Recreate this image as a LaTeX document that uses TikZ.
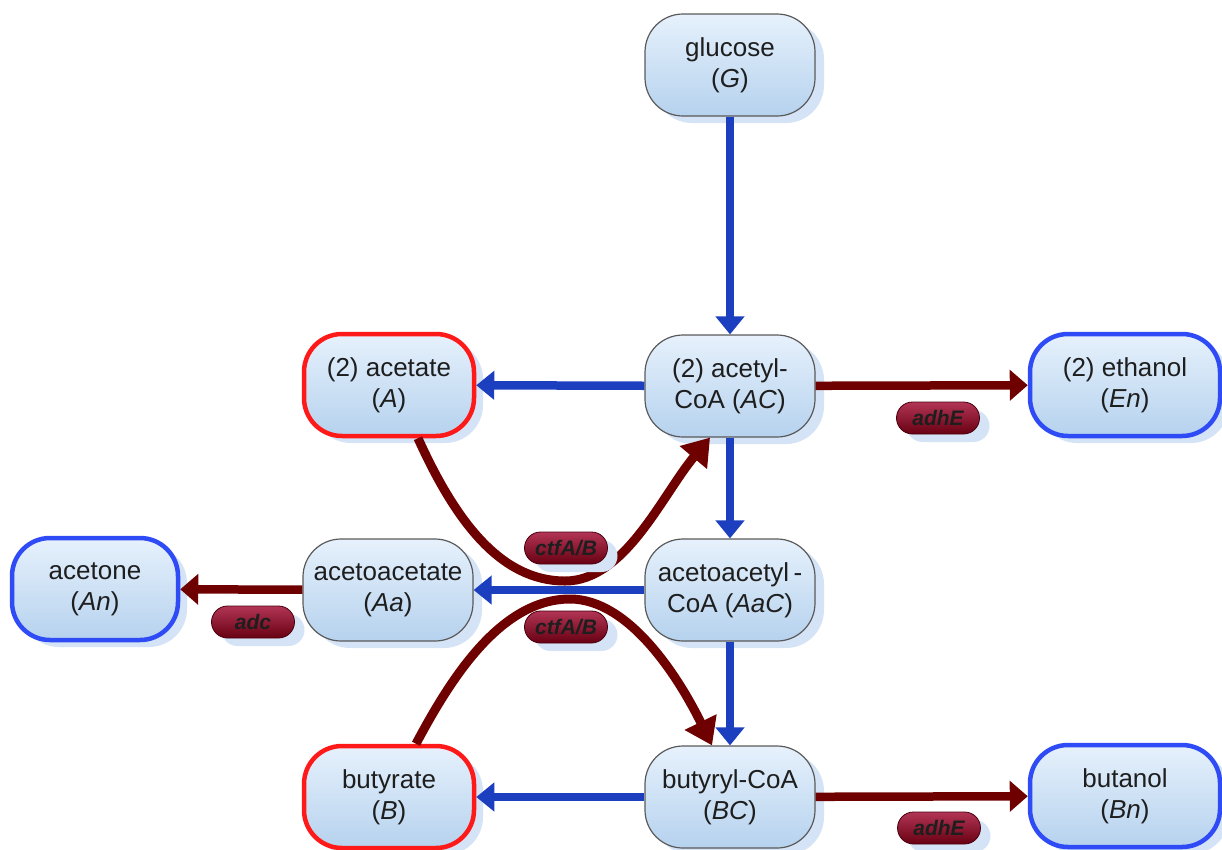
\documentclass[tikz,border=0pt]{standalone}
\usepackage{fontspec}
\setmainfont{Liberation Sans}
\usetikzlibrary{arrows.meta,shadows,calc}
\definecolor{fbt}{HTML}{E6F1FC}
\definecolor{fbb}{HTML}{B6D2EE}
\definecolor{arrblue}{HTML}{1B3FBF}
\definecolor{arrred}{HTML}{6E0000}
\definecolor{brdred}{HTML}{FF1A1A}
\definecolor{brdblue}{HTML}{2E4BF5}
\definecolor{brdgray}{HTML}{5A5A5A}
\definecolor{shd}{HTML}{D5E3F6}
\definecolor{enzt}{HTML}{B23555}
\definecolor{enzb}{HTML}{680012}
\definecolor{txt}{HTML}{1E1E1E}
\begin{document}
\begin{tikzpicture}[x=1pt,y=-1pt,
  met/.style={draw=brdgray, line width=1.2pt, rounded corners=38pt,
    minimum width=170pt, minimum height=102pt, inner sep=0pt,
    top color=fbt, bottom color=fbb, align=center, text=txt,
    font=\fontsize{26}{31}\selectfont,
    drop shadow={shadow xshift=9pt, shadow yshift=-7pt, fill=shd, opacity=1}},
  acid/.style={met, draw=brdred, line width=4.5pt},
  prod/.style={met, draw=brdblue, line width=4.5pt},
  enz/.style={draw=enzb!70!black, line width=0.8pt, rounded corners=16pt,
    minimum width=83pt, minimum height=32pt, inner sep=0pt,
    top color=enzt, bottom color=enzb, text=txt,
    font=\fontsize{21}{24}\selectfont\bfseries\itshape,
    drop shadow={shadow xshift=10pt, shadow yshift=-8pt, fill=shd, opacity=1}},
  barr/.style={draw=arrblue, line width=8.5pt, -{Triangle[length=18pt,width=28pt]}},
  rarr/.style={draw=arrred, line width=8.5pt, -{Triangle[length=18pt,width=30pt]}},
  carr/.style={draw=arrred, line width=9pt, -{Triangle[length=26pt,width=34pt]}}
]
\useasboundingbox (0,0) rectangle (1222,849);

% metabolites
\node[met]  (G)   at (730,65)  {glucose\\(\textit{G})};
\node[acid] (A)   at (389,385) {(2) acetate\\(\textit{A})};
\node[met]  (AC)  at (730,386) {(2) acetyl-\\CoA (\textit{AC})};
\node[prod, minimum width=190pt] (En) at (1125,385) {(2) ethanol\\(\textit{En})};
\node[prod, minimum width=166pt] (An) at (95,589) {acetone\\(\textit{An})};
\node[met]  (Aa)  at (388,590) {acetoacetate\\(\textit{Aa})};
\node[met]  (AaC) at (730,590) {acetoacetyl\,-\\CoA (\textit{AaC})};
\node[acid] (B)   at (389,797) {butyrate\\(\textit{B})};
\node[met]  (BC)  at (730,797) {butyryl-CoA\\(\textit{BC})};
\node[prod, minimum width=190pt] (Bn) at (1125,796) {butanol\\(\textit{Bn})};

% ctfA/B curves
\coordinate (low) at (565,581);
\coordinate (high) at (570,599);
\draw[carr] ($(A.south)+(29,0)$) .. controls (455,520) and (500,581) .. (low)
  .. controls (625,581) and (662,495) .. ($(AC.south)+(-20,0)$);
\draw[carr] ($(B.north)+(27,0)$) .. controls (450,680) and (500,599) .. (high)
  .. controls (630,599) and (680,680) .. ($(BC.north)+(-18,0)$);

% straight arrows
\draw[barr] (G) -- (AC);
\draw[barr] (AC) -- (A);
\draw[rarr] (AC) -- (En);
\draw[barr] (AC) -- (AaC);
\draw[barr] (AaC) -- (Aa);
\draw[rarr] (Aa) -- (An);
\draw[barr] (AaC) -- (BC);
\draw[barr] (BC) -- (B);
\draw[rarr] (BC) -- (Bn);

% enzymes
\node[enz] (e1) at (938,418) {adhE};
\node[enz] (e2) at (939,828) {adhE};
\node[enz] (e3) at (253,622) {adc};
\node[enz] (e4) at (566,548) {ctfA/B};
\node[enz] (e5) at (566,627) {ctfA/B};
\end{tikzpicture}
\end{document}
